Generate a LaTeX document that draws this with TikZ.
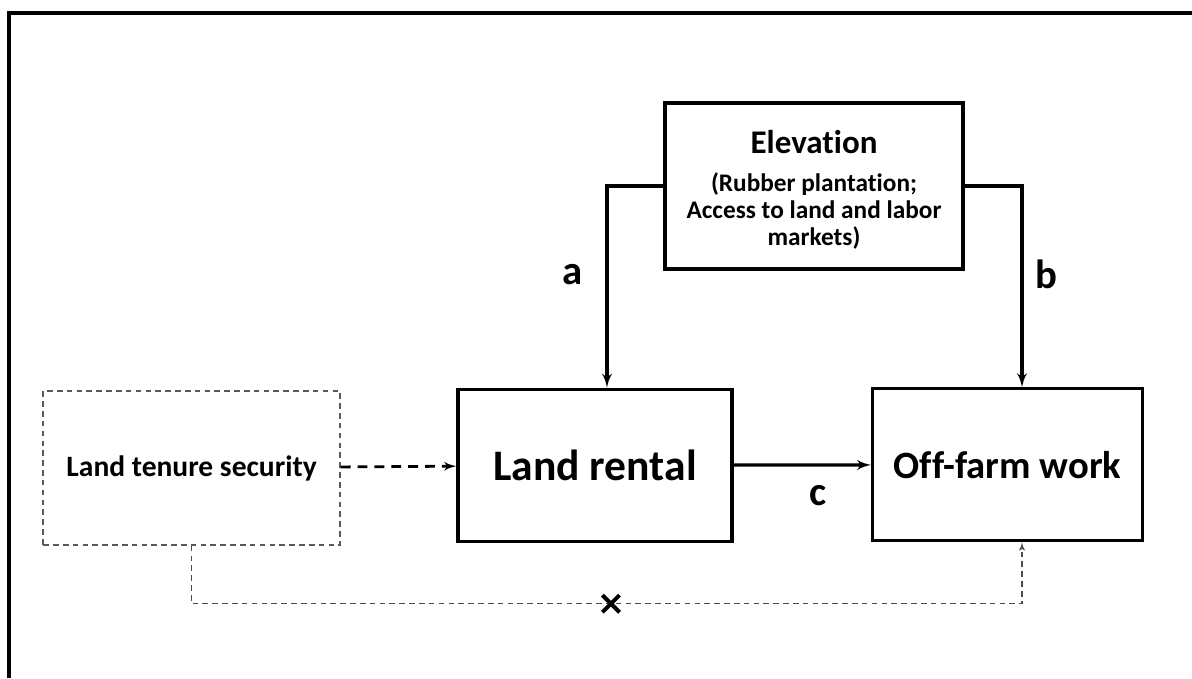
\documentclass[tikz,border=0pt]{standalone}
\usepackage{fontspec}
\setmainfont{Carlito}[Ligatures=NoCommon]
\usepackage{tikz}
\usetikzlibrary{arrows,positioning,shapes.misc}

\begin{document}
\begin{tikzpicture}[
    >=latex',
    font=\bfseries,
    block/.style={
		rectangle,
		draw=black,
		line width=2.3pt,
		text centered,
		fill=white
	},
	ghost/.style={
		rectangle,
		draw=black!65,
		line width=1pt,
		dash pattern=on 4pt off 3pt,
		text centered,
		minimum width=7.42cm,
		minimum height=3.85cm
	},
	letter/.style={
		font=\bfseries\fontsize{29}{32}\selectfont
	},
	flow/.style={
		->,
		line width=2.4pt
	}
  ]
  \useasboundingbox (0,0) rectangle (29.8,16.95);
  % the frame, top and left side only
  \draw [line width=2.3pt] (0.225,0) |- (29.8,16.625);

  % We start by placing the blocks
  \node [block, minimum width=7.45cm, minimum height=4.15cm,
         font=\bfseries\fontsize{18}{19}\selectfont] (elev) at (20.35,12.3)
 {%
 \begin{tabular}{c}
  \rule{0pt}{25pt}\fontsize{23.5}{27}\selectfont Elevation\\[8pt]
  (Rubber plantation;\\
  Access to land and labor\\
  markets)
 \end{tabular}
 };

  \node [block, minimum width=6.85cm, minimum height=3.8cm,
         font=\bfseries\fontsize{31}{34}\selectfont] (rental) at (14.875,5.32) {Land rental};

  \node [block, minimum width=6.75cm, minimum height=3.8cm,
         font=\bfseries\fontsize{27.5}{31}\selectfont] (offfarm) at (25.19,5.33) {Off-farm work};

  \node [ghost, font=\bfseries\fontsize{21}{25}\selectfont] (tenure) at (4.79,5.25) {Land tenure security};

 \draw [flow] (elev.west) -| node [letter, pos=0.72, left=0.45cm] {a} ([xshift=0.3cm]rental.north);
 \draw [flow] (elev.east) -| node [letter, pos=0.72, right=0.18cm] {b} ([xshift=0.36cm]offfarm.north);
 \draw [flow] (rental) -- node [letter, below=0.35cm, xshift=0.4cm] {c} (offfarm);
 \draw [flow, line width=2pt, dash pattern=on 7pt off 5pt] (tenure) -- (rental);
 \draw [->, draw=black!70, line width=1pt, dash pattern=on 4pt off 3pt]
   (tenure.south) -- ++(0,-1.45)
   -| node [pos=0.2525, cross out, draw=black, solid, line width=2.8pt, minimum size=0.33cm, inner sep=0pt] (nolink) {}
   ([xshift=0.36cm]offfarm.south);

\end{tikzpicture}
\end{document}
